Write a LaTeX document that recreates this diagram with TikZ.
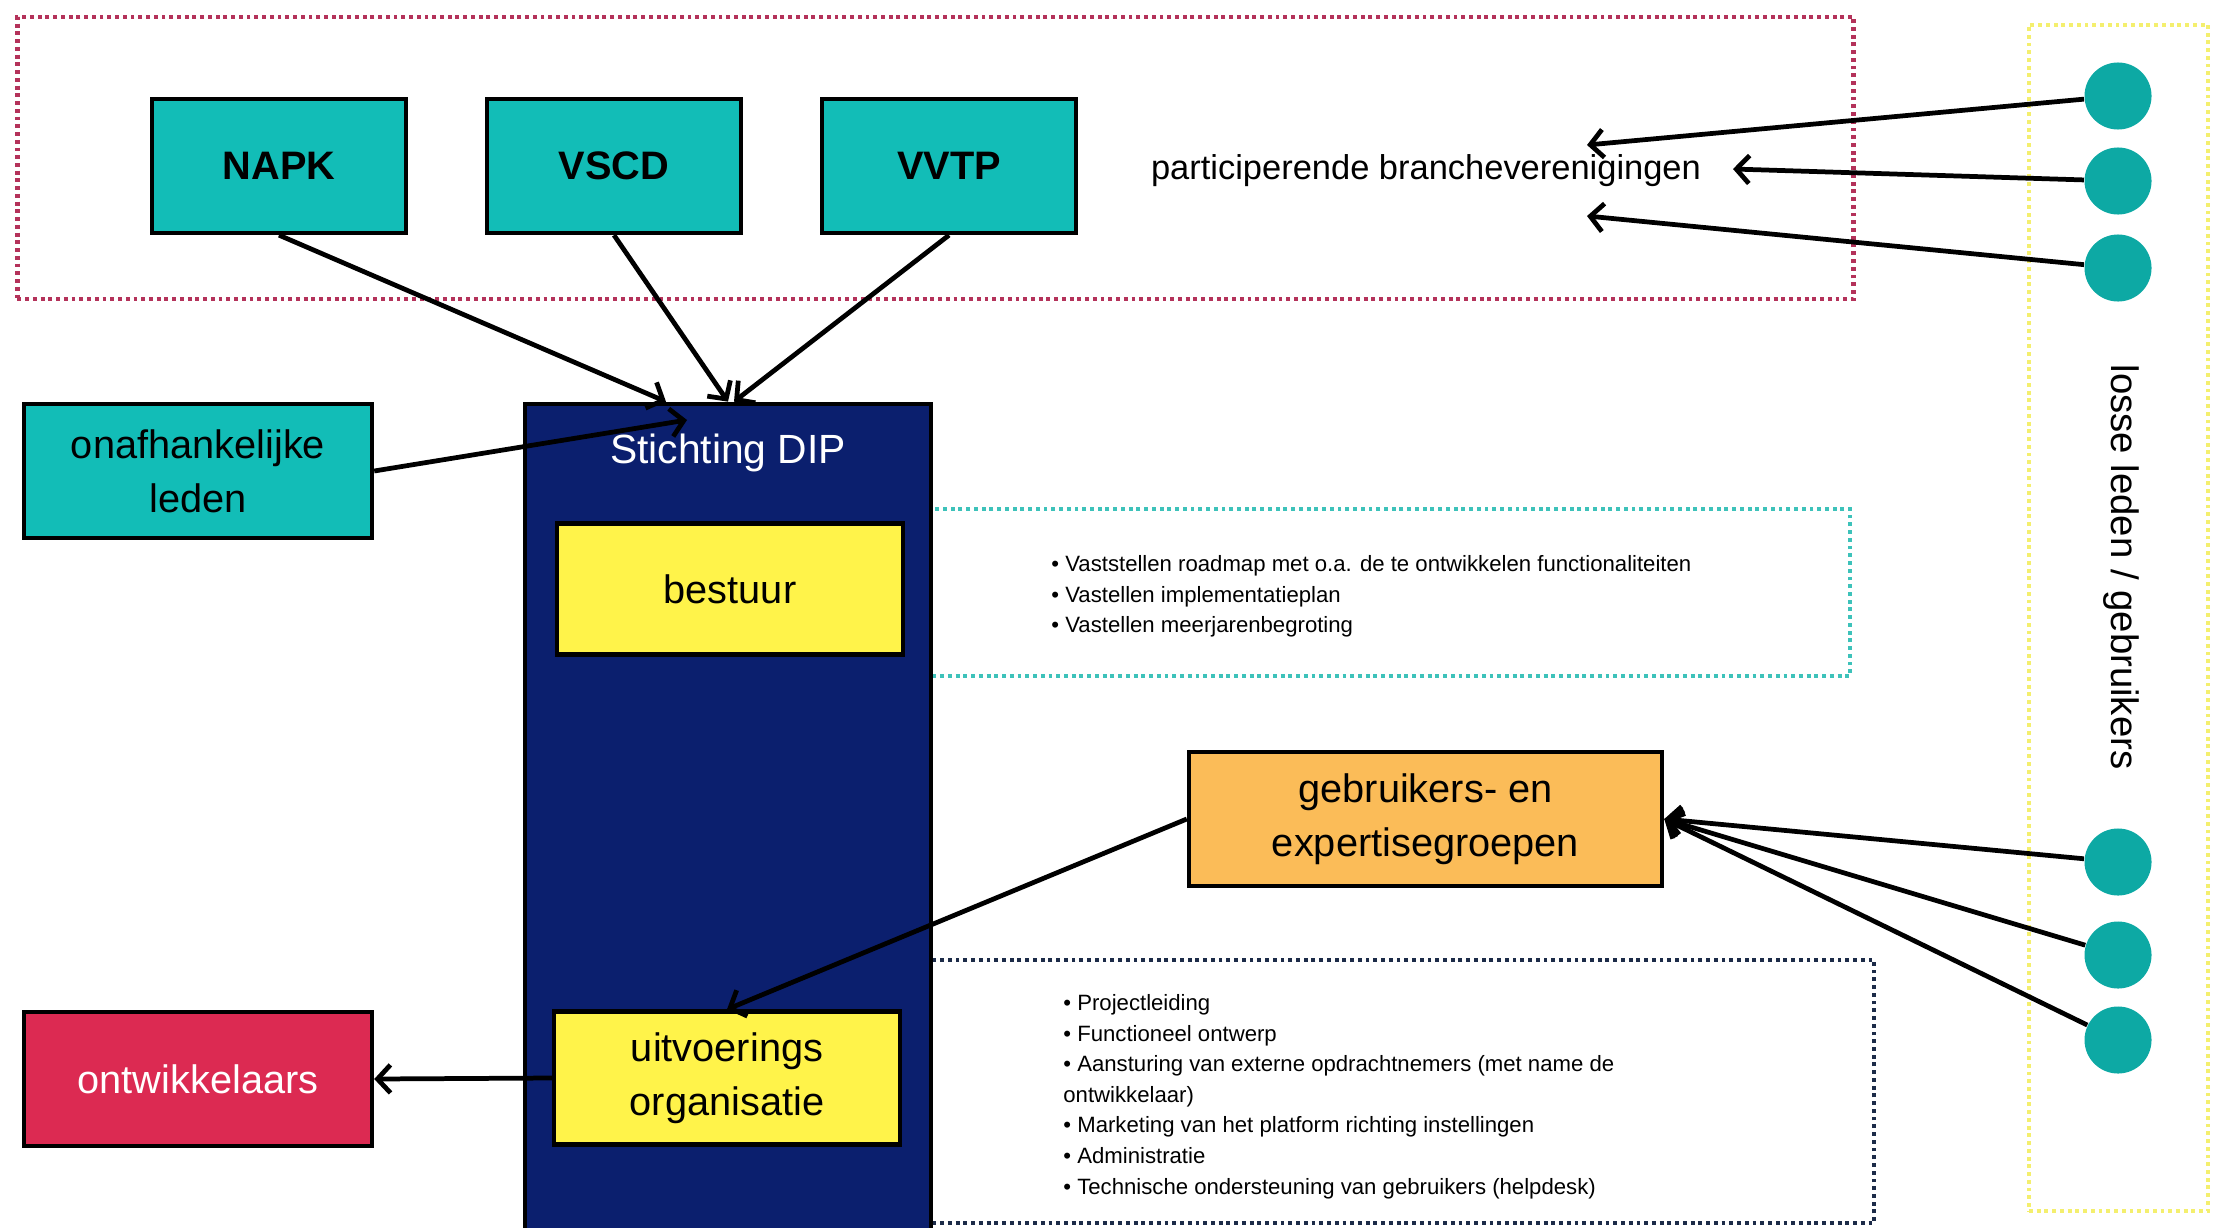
\documentclass[tikz,border=0pt]{standalone}
\usepackage{fontspec}
\setmainfont{Liberation Sans}
\usepackage{tikz}
\usetikzlibrary{arrows.meta, positioning, shapes.geometric}
\definecolor{tealbox}{HTML}{12BDB7}
\definecolor{tealrond}{HTML}{0DA9A4}
\definecolor{dipblauw}{HTML}{0B1F6E}
\definecolor{geel}{HTML}{FFF34A}
\definecolor{oranje}{HTML}{FBBC58}
\definecolor{rood}{HTML}{DC2A52}
\definecolor{roodstip}{HTML}{B4325A}
\definecolor{tealstip}{HTML}{3DC2BA}
\definecolor{donkerstip}{HTML}{1C2B48}
\definecolor{geelstip}{HTML}{F4EF6E}

\begin{document}
\begin{tikzpicture}[
		x=0.01cm, y=-0.01cm,
		box/.style={rectangle, draw, line width=1.2pt, align=center, font=\fontsize{11.3}{15.4}\selectfont, minimum width=2.54cm, minimum height=1.34cm, inner sep=2pt},
		lid/.style={box, fill=tealbox, font=\bfseries\fontsize{11.3}{14}\selectfont},
		orgaan/.style={box, fill=geel, minimum width=3.46cm, minimum height=1.31cm},
		kader/.style={rectangle, line width=1.2pt, dash pattern=on 1.1pt off 1.1pt, inner sep=0pt},
		gebruiker/.style={circle, fill=tealrond, minimum size=0.67cm, inner sep=0pt},
		pijl/.style={line width=1.35pt, -{Straight Barb[length=0.13cm, width=0.28cm]}},
		lijst/.style={align=left, anchor=west, inner sep=0pt, font=\fontsize{6.3}{8.7}\selectfont}
	]
	\useasboundingbox (0,0) rectangle (2213,1227);

	% kaders
	\node[kader, draw=roodstip, minimum width=18.35cm, minimum height=2.82cm] (branche) at (935.5,158) {};
	\node[kader, draw=geelstip, minimum width=1.79cm, minimum height=11.86cm] (losse) at (2118.5,618) {};
	\node[kader, draw=tealstip, minimum width=9.25cm, minimum height=1.67cm] (taken) at (1387.5,592.5) {};
	\node[kader, draw=donkerstip, minimum width=9.49cm, minimum height=2.63cm] (werk) at (1399.5,1091.5) {};

	% verenigingen
	\node[lid] (napk) at (279,166) {NAPK};
	\node[lid] (vscd) at (614,166) {VSCD};
	\node[lid] (vvtp) at (949,166) {VVTP};
	\node[font=\fontsize{9.8}{12}\selectfont] (part) at (1426,171) {participerende brancheverenigingen};

	% stichting
	\node[rectangle, draw, line width=1.2pt, fill=dipblauw, minimum width=4.06cm, minimum height=8.5cm] (dip) at (728,829) {};
	\node[text=white, font=\fontsize{11.6}{14}\selectfont] (diplabel) at (728,453) {Stichting DIP};
	\node[orgaan] (bestuur) at (730,589) {bestuur};
	\node[orgaan, minimum height=1.33cm] (uitv) at (727,1078) {uitvoerings\\organisatie};

	\node[box, fill=tealbox, minimum width=3.48cm] (onaf) at (198,471) {onafhankelijke\\leden};
	\node[box, fill=rood, text=white, minimum width=3.48cm] (ontw) at (198,1079) {ontwikkelaars};
	\node[box, fill=oranje, minimum width=4.73cm] (gebr) at (1425.5,819) {gebruikers- en\\expertisegroepen};

	% takenlijsten
	\node[lijst] (takenlijst) at ([xshift=1.28cm, yshift=-0.04cm]taken.west) {%
		\textbullet\ Vaststellen roadmap met o.a. de te ontwikkelen functionaliteiten\\
		\textbullet\ Vastellen implementatieplan\\
		\textbullet\ Vastellen meerjarenbegroting};
	\node[lijst] (werklijst) at ([xshift=1.40cm, yshift=-0.05cm]werk.west) {%
		\textbullet\ Projectleiding\\
		\textbullet\ Functioneel ontwerp\\
		\textbullet\ Aansturing van externe opdrachtnemers (met name de\\
		ontwikkelaar)\\
		\textbullet\ Marketing van het platform richting instellingen\\
		\textbullet\ Administratie\\
		\textbullet\ Technische ondersteuning van gebruikers (helpdesk)};

	\node[rotate=-90, font=\fontsize{10.9}{13}\selectfont] (losselabel) at (2121,567) {losse leden / gebruikers};

	% losse leden
	\foreach \n/\y in {1/96, 2/181, 3/268, 4/862, 5/955, 6/1040}
		\node[gebruiker] (g\n) at (2118,\y) {};

	\coordinate (p1) at (1587,145);
	\coordinate (p2) at (1733,169);
	\coordinate (p3) at (1587,216);
	\coordinate (onafpunt) at (687,420);

	% pijlen
	\draw[pijl] (napk.south) -- ([xshift=-0.62cm]dip.north);
	\draw[pijl] (vscd.south) -- (dip.north);
	\draw[pijl] (vvtp.south) -- ([xshift=0.06cm]dip.north);
	\draw[pijl] (onaf.east) -- (onafpunt);
	\draw[pijl] (gebr.west) -- (uitv.north);
	\draw[pijl] (uitv.west) -- (ontw.east);
	\draw[pijl] (g1) -- (p1);
	\draw[pijl] (g2) -- (p2);
	\draw[pijl] (g3) -- (p3);
	\foreach \n in {4,5,6}
		\draw[pijl] (g\n) -- (gebr.east);
\end{tikzpicture}
\end{document}
